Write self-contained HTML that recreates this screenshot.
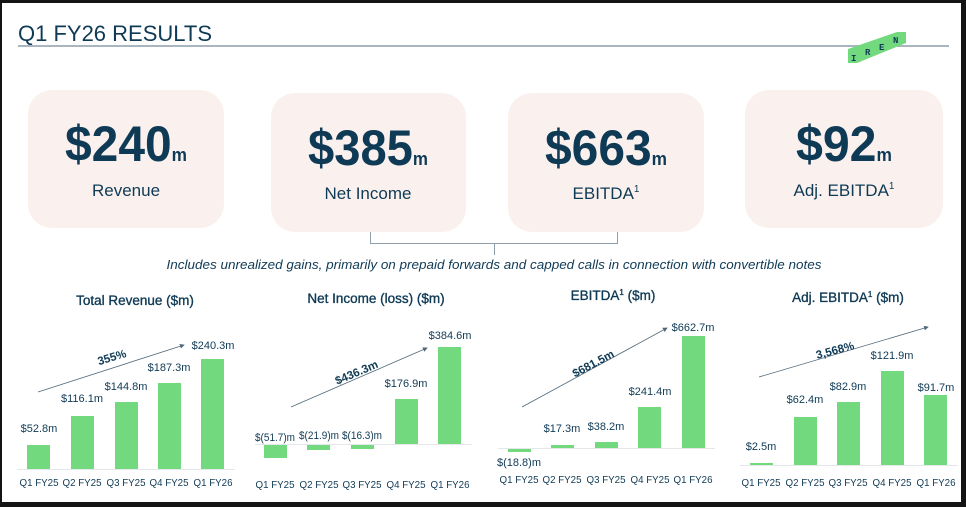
<!DOCTYPE html>
<html><head><meta charset="utf-8"><style>
html,body{margin:0;padding:0;background:#111;}
svg{display:block;font-family:"Liberation Sans",sans-serif;}
</style></head><body>
<svg width="966" height="507" viewBox="0 0 966 507" xmlns="http://www.w3.org/2000/svg">
<rect x="0" y="0" width="966" height="507" fill="#141414"/>
<rect x="2" y="3" width="959" height="499" fill="#fff"/>
<text x="18" y="41" font-size="22" fill="#0f3a55">Q1 FY26 RESULTS</text>
<rect x="18" y="45" width="931" height="2" fill="#a9b6c0"/>
<polygon points="848,49 897,32 906,32 906,43 857,63 848,63" fill="#72d97e"/>
<g font-size="9" font-weight="bold" fill="#0f3a55" font-family="Liberation Mono,monospace">
<text x="851" y="61">I</text><text x="865" y="55">R</text><text x="879" y="50">E</text><text x="893" y="43">N</text></g>
<g fill="#faf1ee">
<rect x="28" y="90" width="196" height="138" rx="24"/>
<rect x="271" y="93" width="195" height="139" rx="24"/>
<rect x="508" y="93" width="196" height="139" rx="24"/>
<rect x="745" y="90" width="198" height="138" rx="24"/>
</g>
<g fill="#0f3a55" text-anchor="middle">
<text x="126" y="161" font-size="50" font-weight="bold" textLength="122" lengthAdjust="spacingAndGlyphs">$240<tspan font-size="18">m</tspan></text>
<text x="368" y="165" font-size="50" font-weight="bold" textLength="120" lengthAdjust="spacingAndGlyphs">$385<tspan font-size="18">m</tspan></text>
<text x="606" y="165" font-size="50" font-weight="bold" textLength="122" lengthAdjust="spacingAndGlyphs">$663<tspan font-size="18">m</tspan></text>
<text x="844" y="161" font-size="50" font-weight="bold" textLength="96" lengthAdjust="spacingAndGlyphs">$92<tspan font-size="18">m</tspan></text>
<text x="126" y="196" font-size="17">Revenue</text>
<text x="368" y="199" font-size="17">Net Income</text>
<text x="606" y="199" font-size="17">EBITDA<tspan font-size="10" dy="-7">1</tspan></text>
<text x="844" y="196" font-size="17">Adj. EBITDA<tspan font-size="10" dy="-7">1</tspan></text>
</g>
<path d="M370.5,232 V243.5 H617.5 V232 M494.5,243.5 V255" fill="none" stroke="#8fa0ac" stroke-width="1"/>
<text x="494" y="269" font-size="13" font-style="italic" fill="#0f3a55" text-anchor="middle" textLength="655" lengthAdjust="spacingAndGlyphs">Includes unrealized gains, primarily on prepaid forwards and capped calls in connection with convertible notes</text>

<defs><marker id="ar" markerWidth="6" markerHeight="6" refX="5" refY="3" orient="auto"><path d="M0,0 L6,3 L0,6 z" fill="#4f6878"/></marker></defs>
<g fill="#0f3a55" stroke="#0f3a55" stroke-width="0.35" text-anchor="middle">
<text x="135" y="305" font-size="13.5">Total Revenue ($m)</text>
<text x="376" y="303" font-size="13.5">Net Income (loss) ($m)</text>
<text x="613" y="300" font-size="13.5">EBITDA<tspan font-size="8" dy="-5">1</tspan><tspan dy="5"> ($m)</tspan></text>
<text x="848" y="302" font-size="13.5">Adj. EBITDA<tspan font-size="8" dy="-5">1</tspan><tspan dy="5"> ($m)</tspan></text>
</g>
<g stroke="#e4e8ea" stroke-width="1">
<line x1="17" y1="469.5" x2="235" y2="469.5"/>
<line x1="255" y1="444.5" x2="472" y2="444.5"/>
<line x1="498" y1="448.5" x2="715" y2="448.5"/>
<line x1="740" y1="465.5" x2="958" y2="465.5"/>
</g>
<g fill="#72d97e">
<rect x="27" y="445" width="23" height="24"/><rect x="71" y="416" width="23" height="53"/><rect x="115" y="402" width="23" height="67"/><rect x="158" y="383" width="23" height="86"/><rect x="201" y="359" width="23" height="110"/>
<rect x="264" y="445" width="23" height="13"/><rect x="307" y="445" width="23" height="5"/><rect x="351" y="445" width="23" height="4"/><rect x="395" y="399" width="23" height="45"/><rect x="438" y="347" width="23" height="97"/>
<rect x="508" y="449" width="23" height="3"/><rect x="551" y="445" width="23" height="3"/><rect x="595" y="442" width="23" height="6"/><rect x="638" y="407" width="23" height="41"/><rect x="682" y="336" width="23" height="112"/>
<rect x="750" y="463" width="23" height="2"/><rect x="794" y="417" width="23" height="48"/><rect x="837" y="402" width="23" height="63"/><rect x="881" y="371" width="23" height="94"/><rect x="924" y="395" width="23" height="70"/>
</g>
<g stroke="#4f6878" stroke-width="0.8" marker-end="url(#ar)">
<line x1="38" y1="392" x2="184" y2="345"/>
<line x1="291" y1="407" x2="427" y2="348"/>
<line x1="522" y1="407" x2="667" y2="328"/>
<line x1="759" y1="377" x2="928" y2="327"/>
</g>
<g fill="#0f3a55" font-size="11" text-anchor="middle">
<text x="39" y="432">$52.8m</text><text x="82" y="402">$116.1m</text><text x="126" y="390">$144.8m</text><text x="169" y="371">$187.3m</text><text x="213" y="349">$240.3m</text>
<text x="275" y="441" textLength="40" lengthAdjust="spacingAndGlyphs">$(51.7)m</text><text x="319" y="439" textLength="40" lengthAdjust="spacingAndGlyphs">$(21.9)m</text><text x="362" y="439" textLength="40" lengthAdjust="spacingAndGlyphs">$(16.3)m</text><text x="406" y="387">$176.9m</text><text x="450" y="339">$384.6m</text>
<text x="519" y="466">$(18.8)m</text><text x="562" y="432">$17.3m</text><text x="606" y="430">$38.2m</text><text x="650" y="395">$241.4m</text><text x="693" y="331">$662.7m</text>
<text x="761" y="450">$2.5m</text><text x="805" y="403">$62.4m</text><text x="848" y="390">$82.9m</text><text x="892" y="359">$121.9m</text><text x="936" y="391">$91.7m</text>
</g>
<g fill="#0f3a55" font-size="10.5" text-anchor="middle">
<g transform="translate(0,486)"><text x="39" textLength="39" lengthAdjust="spacingAndGlyphs">Q1 FY25</text><text x="82" textLength="39" lengthAdjust="spacingAndGlyphs">Q2 FY25</text><text x="126" textLength="39" lengthAdjust="spacingAndGlyphs">Q3 FY25</text><text x="169" textLength="39" lengthAdjust="spacingAndGlyphs">Q4 FY25</text><text x="213" textLength="39" lengthAdjust="spacingAndGlyphs">Q1 FY26</text></g>
<g transform="translate(0,488)"><text x="275" textLength="39" lengthAdjust="spacingAndGlyphs">Q1 FY25</text><text x="319" textLength="39" lengthAdjust="spacingAndGlyphs">Q2 FY25</text><text x="362" textLength="39" lengthAdjust="spacingAndGlyphs">Q3 FY25</text><text x="406" textLength="39" lengthAdjust="spacingAndGlyphs">Q4 FY25</text><text x="450" textLength="39" lengthAdjust="spacingAndGlyphs">Q1 FY26</text></g>
<g transform="translate(0,483)"><text x="519" textLength="39" lengthAdjust="spacingAndGlyphs">Q1 FY25</text><text x="562" textLength="39" lengthAdjust="spacingAndGlyphs">Q2 FY25</text><text x="606" textLength="39" lengthAdjust="spacingAndGlyphs">Q3 FY25</text><text x="650" textLength="39" lengthAdjust="spacingAndGlyphs">Q4 FY25</text><text x="693" textLength="39" lengthAdjust="spacingAndGlyphs">Q1 FY26</text></g>
<g transform="translate(0,486)"><text x="761" textLength="39" lengthAdjust="spacingAndGlyphs">Q1 FY25</text><text x="805" textLength="39" lengthAdjust="spacingAndGlyphs">Q2 FY25</text><text x="848" textLength="39" lengthAdjust="spacingAndGlyphs">Q3 FY25</text><text x="892" textLength="39" lengthAdjust="spacingAndGlyphs">Q4 FY25</text><text x="936" textLength="39" lengthAdjust="spacingAndGlyphs">Q1 FY26</text></g>
</g>
<g fill="#0f3a55" font-size="11.5" font-weight="bold" text-anchor="middle">
<text transform="translate(113,361) rotate(-17)">355%</text>
<text transform="translate(358,376) rotate(-23)">$436.3m</text>
<text transform="translate(595,367) rotate(-28)">$681.5m</text>
<text transform="translate(836,354) rotate(-15)">3,568%</text>
</g>
</svg>
</body></html>
